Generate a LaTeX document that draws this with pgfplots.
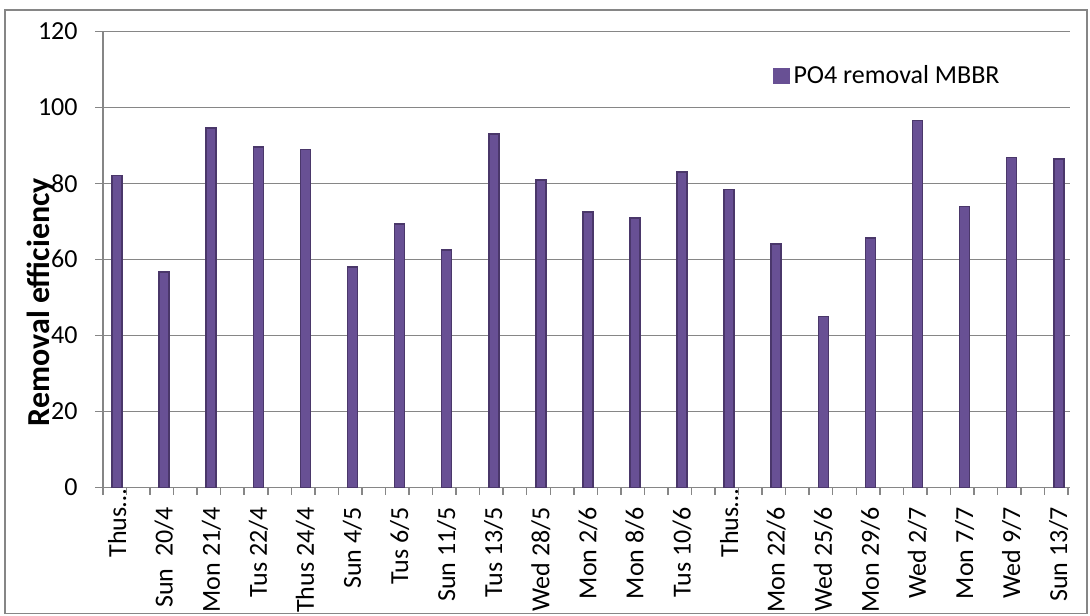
\documentclass[border=0pt]{standalone}
\usepackage{fontspec}
\setmainfont{Carlito}
\usepackage{pgfplots}
\pgfplotsset{compat=1.18}
\definecolor{barDark}{RGB}{74,55,106}
\definecolor{barFill}{RGB}{104,80,148}
\definecolor{gridGray}{RGB}{134,134,134}
\begin{document}
\begin{tikzpicture}
\begin{axis}[name=ax, at={(0,0)}, anchor=south west,
  scale only axis, width=483.5pt, height=228pt,
  xmin=-0.3, xmax=20.24, ymin=0, ymax=120,
  /pgf/number format/assume math mode=true,
  ytick={0,20,...,120},
  minor ytick={0,20,...,120},
  xtick={0,...,20},
  minor xtick={-0.3,0.2,...,20.2},
  xticklabels={Thus\rlap{…}, Sun\ \ 20/4, Mon 21/4, Tus 22/4, Thus 24/4, Sun 4/5, Tus 6/5, Sun 11/5, Tus 13/5, Wed 28/5, Mon 2/6, Mon 8/6, Tus 10/6, Thus\rlap{…}, Mon 22/6, Wed 25/6, Mon 29/6, Wed 2/7, Mon 7/7, Wed 9/7, Sun 13/7},
  axis lines*=left,
  axis line style={gridGray, line width=0.75pt},
  ymajorgrids, grid style={gridGray, line width=0.75pt},
  tick align=outside,
  tick style={gridGray, line width=0.75pt},
  major tick length=0pt, minor tick length=3.75pt,
  tick label style={font=\fontsize{13}{15}\selectfont, text=black},
  xticklabel style={rotate=90, anchor=east, inner xsep=9.75pt, inner ysep=0pt},
  yticklabel style={anchor=east, inner xsep=12.5pt, inner ysep=0pt},
  ylabel={Removal efficiency},
  every axis y label/.style={at={(axis description cs:-0.064,0.406)}, rotate=90, anchor=center, font=\bfseries\fontsize{16}{19}\selectfont},
  legend style={at={(axis description cs:0.812,0.902)}, anchor=center, draw=none, fill=none, font=\fontsize{13}{15}\selectfont, inner sep=0pt},
  ybar, bar width=5pt,
  legend image code/.code={\fill[barFill] (0pt,-3.75pt) rectangle (7.5pt,3.75pt);},
]
\addplot[fill=barFill, draw=barDark, line width=0.8pt] coordinates {
(0,82.1) (1,56.6) (2,94.5) (3,89.5) (4,88.9) (5,58.0) (6,69.3) (7,62.4) (8,93.0) (9,80.9) (10,72.4)
(11,70.9) (12,83.0) (13,78.4) (14,64.0) (15,44.9) (16,65.6) (17,96.5) (18,73.9) (19,86.8) (20,86.4)};
\addlegendentry{PO4 removal MBBR}
\end{axis}
\draw[gridGray, line width=0.6pt] ([shift={(-49pt,-63pt)}]ax.south west) rectangle ([shift={(492pt,238.65pt)}]ax.south west);
\pgfresetboundingbox
\useasboundingbox ([shift={(-51.5pt,-63.85pt)}]ax.south west) rectangle ([shift={(493.5pt,243.65pt)}]ax.south west);
\end{tikzpicture}
\end{document}
